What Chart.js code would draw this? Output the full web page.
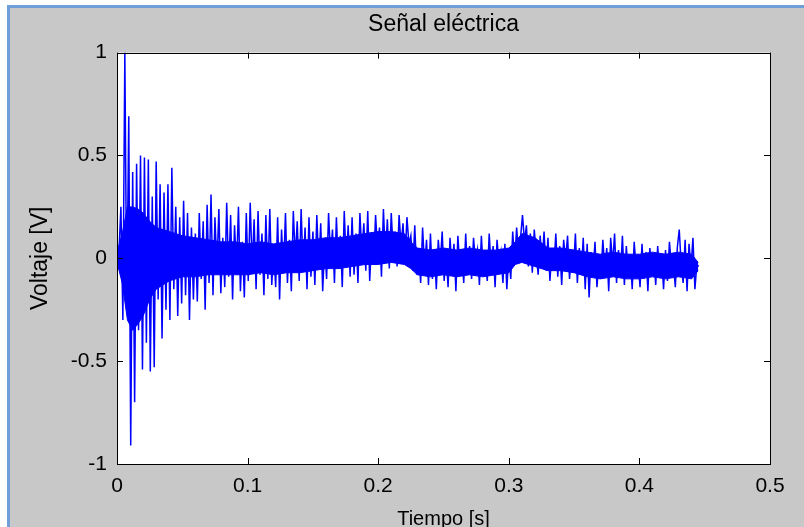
<!DOCTYPE html>
<html>
<head>
<meta charset="utf-8">
<script src="https://cdn.jsdelivr.net/npm/chart.js@4.4.0/dist/chart.umd.min.js"></script>
<style>
  html, body { margin: 0; padding: 0; background: #ffffff; }
  #wrap { width: 804px; height: 527px; }
</style>
</head>
<body>
<div id="wrap"><canvas id="myChart" width="804" height="527"></canvas></div>
<script>
// signal: peaks/troughs every 1.5 ms
const sampleStep = 0.0015;
const voltage = [
  0.00, 0.03, 0.25, -0.30, 1.00, -0.25, 0.69, -0.91, 0.42, -0.70, 0.46, -0.35, 0.50, -0.54, 0.49, -0.41, 0.48, -0.55, 0.30, -0.53,
  0.47, -0.20, 0.36, -0.39, 0.32, -0.25, 0.36, -0.30, 0.44, -0.15, 0.25, -0.28, 0.20, -0.22, 0.28, -0.18, 0.22, -0.30, 0.15, -0.20,
  0.12, -0.21, 0.22, -0.10, 0.18, -0.25, 0.26, -0.12, 0.31, -0.18, 0.20, -0.05, 0.24, -0.17, 0.10, -0.14, 0.27, -0.09, 0.21, -0.20,
  0.16, -0.06, 0.25, -0.16, 0.08, -0.19, 0.22, -0.11, 0.27, -0.04, 0.19, -0.15, 0.23, -0.08, 0.12, -0.18, 0.21, -0.10, 0.24, -0.13,
  0.05, -0.14, 0.20, -0.20, 0.14, -0.07, 0.22, -0.12, 0.09, -0.16, 0.23, 0.00, 0.18, -0.11, 0.24, -0.06, 0.15, -0.15, 0.20, -0.09,
  0.13, -0.13, 0.21, -0.04, 0.17, -0.16, 0.07, -0.10, 0.22, 0.01, 0.14, -0.12, 0.20, -0.05, 0.11, -0.14, 0.23, -0.02, 0.16, -0.09,
  0.20, -0.08, 0.12, -0.12, 0.22, 0.02, 0.17, -0.06, 0.23, -0.11, 0.10, -0.03, 0.21, 0.04, 0.15, -0.09, 0.24, 0.00, 0.19, -0.05,
  0.22, 0.03, 0.13, -0.04, 0.21, 0.06, 0.17, -0.02, 0.20, 0.07, 0.11, -0.06, 0.16, -0.08, 0.05, -0.12, 0.15, -0.05, 0.09, -0.13,
  0.12, -0.10, 0.04, -0.15, 0.09, -0.03, 0.13, -0.11, 0.02, -0.14, 0.10, -0.06, 0.07, -0.16, 0.11, -0.04, 0.03, -0.12, 0.12, -0.08,
  0.06, -0.10, 0.10, -0.02, 0.04, -0.13, 0.11, -0.07, 0.01, -0.11, 0.12, -0.05, 0.06, -0.14, 0.09, -0.03, 0.03, -0.12, 0.07, -0.15,
  0.02, -0.10, 0.13, -0.02, 0.15, 0.01, 0.10, 0.21, 0.08, 0.16, -0.04, 0.12, -0.07, 0.14, 0.02, -0.08, 0.11, -0.02, 0.13, -0.06,
  0.10, -0.11, 0.04, -0.05, 0.12, -0.09, 0.06, -0.13, 0.09, -0.01, 0.11, -0.10, 0.03, -0.06, 0.12, -0.12, 0.05, -0.08, 0.10, -0.15,
  0.07, -0.19, 0.03, -0.07, 0.08, -0.14, -0.01, -0.10, 0.09, -0.05, 0.05, -0.16, 0.10, -0.03, 0.12, -0.12, 0.04, -0.08, 0.11, -0.13,
  0.06, -0.09, 0.02, -0.15, 0.08, -0.05, -0.01, -0.14, 0.07, -0.10, 0.03, -0.16, 0.05, -0.06, 0.00, -0.13, 0.06, -0.09, 0.02, -0.15,
  0.04, -0.11, 0.08, -0.04, -0.02, -0.14, 0.05, 0.14, -0.03, -0.12, 0.09, -0.16, 0.07, -0.05, 0.10, -0.15, -0.03, -0.04
];
// the solid blue core of the trace (edges of the dense band)
const bandTime = [
  0, 0.004, 0.008, 0.012, 0.016, 0.02, 0.025, 0.03, 0.04, 0.05, 0.06, 0.07, 0.08, 0.09, 0.10, 0.11, 0.12, 0.13,
  0.14, 0.15, 0.16, 0.17, 0.18, 0.19, 0.20, 0.21, 0.22, 0.225, 0.23, 0.24, 0.25, 0.26, 0.27, 0.28, 0.29, 0.30,
  0.305, 0.31, 0.32, 0.33, 0.34, 0.35, 0.36, 0.37, 0.38, 0.39, 0.40, 0.41, 0.42, 0.43, 0.44, 0.445
];
const bandUpper = [
  0.03, 0.12, 0.25, 0.25, 0.24, 0.22, 0.18, 0.15, 0.13, 0.11, 0.10, 0.09, 0.08, 0.08, 0.07, 0.08, 0.07, 0.08,
  0.09, 0.09, 0.10, 0.10, 0.11, 0.12, 0.13, 0.13, 0.12, 0.08, 0.05, 0.04, 0.05, 0.04, 0.05, 0.04, 0.04, 0.05,
  0.08, 0.12, 0.10, 0.05, 0.05, 0.04, 0.03, 0.02, 0.03, 0.02, 0.02, 0.03, 0.02, 0.03, 0.02, -0.02
];
const bandLower = [
  -0.02, -0.12, -0.30, -0.35, -0.32, -0.28, -0.20, -0.15, -0.11, -0.09, -0.09, -0.08, -0.08, -0.08, -0.08, -0.07, -0.08, -0.07,
  -0.07, -0.06, -0.05, -0.05, -0.04, -0.03, -0.03, -0.02, -0.03, -0.05, -0.08, -0.09, -0.08, -0.09, -0.08, -0.09, -0.08, -0.07,
  -0.03, -0.02, -0.04, -0.06, -0.06, -0.07, -0.09, -0.10, -0.09, -0.10, -0.10, -0.09, -0.10, -0.09, -0.10, -0.06
];
const xTicks = [0, 0.1, 0.2, 0.3, 0.4, 0.5];
const yTicks = [-1, -0.5, 0, 0.5, 1];

const points = voltage.map((v, i) => ({ x: i * sampleStep, y: v }));
const upperPts = bandTime.map((t, i) => ({ x: t, y: bandUpper[i] }));
const lowerPts = bandTime.map((t, i) => ({ x: t, y: bandLower[i] }));

const fontFamily = "'Liberation Sans', Arial, sans-serif";

// gray matlab figure background + window frame
const figureBg = {
  id: "figureBg",
  beforeDraw(chart) {
    const c = chart.ctx;
    const a = chart.chartArea;
    c.save();
    c.fillStyle = "#ffffff";
    c.fillRect(0, 0, chart.width, chart.height);
    c.fillStyle = "#6f9fd8";
    c.fillRect(7, 5, chart.width, 3);
    c.fillRect(7, 5, 3, chart.height);
    c.fillStyle = "#c8c8c8";
    c.fillRect(10, 8, chart.width, chart.height);
    c.fillStyle = "#ffffff";
    c.fillRect(a.left, a.top, a.right - a.left, a.bottom - a.top);
    c.restore();
  },
};

// box around the axes with inward ticks on all four sides
const axesBox = {
  id: "axesBox",
  afterDraw(chart) {
    const c = chart.ctx;
    const a = chart.chartArea;
    const xs = chart.scales.x;
    const ys = chart.scales.y;
    const len = 6;
    c.save();
    c.strokeStyle = "#000000";
    c.lineWidth = 1;
    c.strokeRect(Math.round(a.left) + 0.5, Math.round(a.top) + 0.5,
      Math.round(a.right - a.left), Math.round(a.bottom - a.top));
    c.beginPath();
    xTicks.forEach((t) => {
      const px = Math.round(xs.getPixelForValue(t)) + 0.5;
      c.moveTo(px, a.top);
      c.lineTo(px, a.top + len);
      c.moveTo(px, a.bottom);
      c.lineTo(px, a.bottom - len);
    });
    yTicks.forEach((t) => {
      const py = Math.round(ys.getPixelForValue(t)) + 0.5;
      c.moveTo(a.left, py);
      c.lineTo(a.left + len, py);
      c.moveTo(a.right, py);
      c.lineTo(a.right - len, py);
    });
    c.stroke();
    c.restore();
  },
};

const ctx = document.getElementById("myChart").getContext("2d");
const myChart = new Chart(ctx, {
  type: "line",
  data: {
    datasets: [
      {
        data: points,
        borderColor: "#0000ff",
        borderWidth: 1.5,
        pointRadius: 0,
        tension: 0,
        fill: false,
      },
      {
        data: upperPts,
        borderColor: "#0000ff",
        backgroundColor: "#0000ff",
        borderWidth: 1,
        pointRadius: 0,
        tension: 0,
        fill: "+1",
      },
      {
        data: lowerPts,
        borderColor: "#0000ff",
        borderWidth: 1,
        pointRadius: 0,
        tension: 0,
        fill: false,
      },
    ],
  },
  options: {
    responsive: false,
    animation: false,
    devicePixelRatio: 1,
    layout: { padding: { left: 0, right: 34, top: 0, bottom: 0 } },
    plugins: {
      legend: { display: false },
      tooltip: { enabled: false },
      title: {
        display: true,
        fullSize: false,
        text: "Señal eléctrica",
        color: "#000000",
        font: { family: fontFamily, size: 23, weight: "normal" },
        padding: { top: 11, bottom: 14 },
      },
    },
    scales: {
      x: {
        type: "linear",
        min: 0,
        max: 0.5,
        afterBuildTicks: (s) => { s.ticks = xTicks.map((v) => ({ value: v })); },
        afterFit: (s) => { s.height = 63; },
        grid: { display: false, drawTicks: false },
        border: { display: false },
        ticks: {
          color: "#000000",
          padding: 10,
          maxRotation: 0,
          font: { family: fontFamily, size: 21 },
          callback: (v) => String(v),
        },
        title: {
          display: true,
          text: "Tiempo [s]",
          color: "#000000",
          font: { family: fontFamily, size: 20 },
          padding: { top: 0, bottom: -4 },
        },
      },
      y: {
        min: -1,
        max: 1,
        afterBuildTicks: (s) => { s.ticks = yTicks.map((v) => ({ value: v })); },
        afterFit: (s) => { s.width = 117; },
        grid: { display: false, drawTicks: false },
        border: { display: false },
        ticks: {
          color: "#000000",
          padding: 10,
          font: { family: fontFamily, size: 21 },
          callback: (v) => String(v),
        },
        title: {
          display: true,
          text: "Voltaje [V]",
          color: "#000000",
          font: { family: fontFamily, size: 23 },
          padding: { top: 27, bottom: 0 },
        },
      },
    },
  },
  plugins: [figureBg, axesBox],
});
</script>
</body>
</html>
